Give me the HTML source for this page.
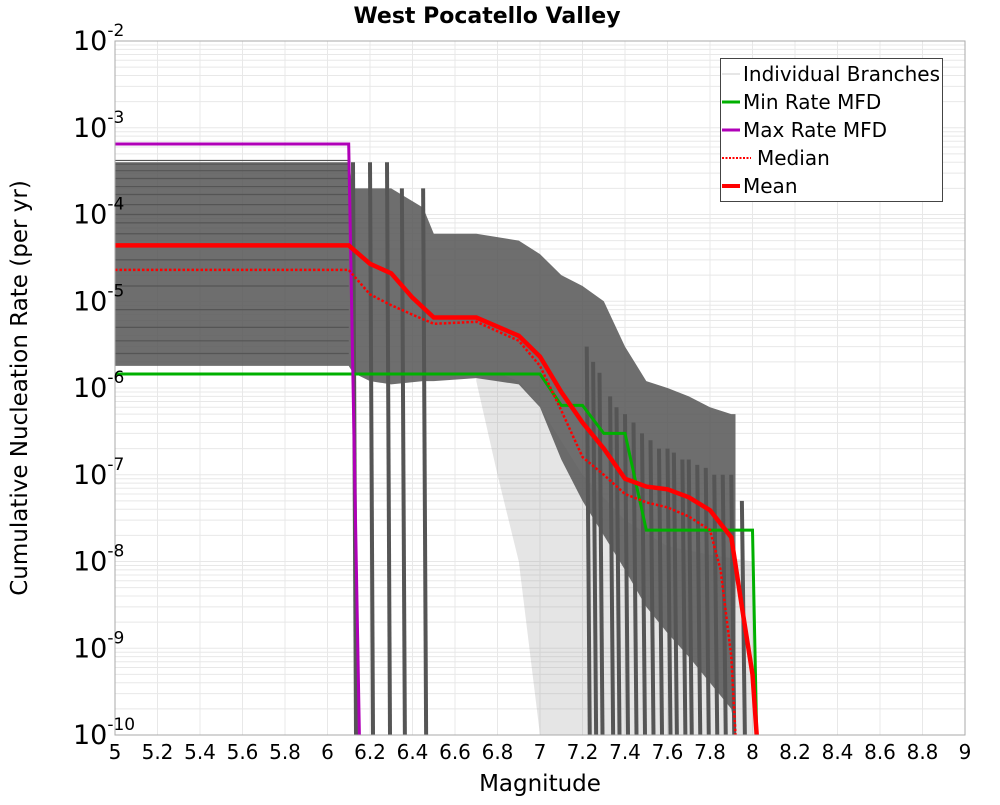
<!DOCTYPE html>
<html><head><meta charset="utf-8"><style>
body{margin:0;background:#fff;}
svg text{font-family:"DejaVu Sans","Liberation Sans",sans-serif;}
</style></head><body>
<svg id="chart" width="1000" height="800" xmlns="http://www.w3.org/2000/svg">
<text x="487" y="23" text-anchor="middle" font-size="22" font-weight="bold">West Pocatello Valley</text>
<text x="540" y="791" text-anchor="middle" font-size="23">Magnitude</text>
<text transform="translate(27,388) rotate(-90)" text-anchor="middle" font-size="23">Cumulative Nucleation Rate (per yr)</text>
<g id="grid"></g>
<g id="marks"></g>
<rect x="115" y="41" width="850" height="694" fill="none" stroke="#aaa" stroke-width="1"/>
<g id="axes"></g>
<g>
<rect x="720.5" y="58.5" width="222" height="143" fill="#fff" stroke="#444"/>
<line x1="722" y1="74" x2="740" y2="74" stroke="#ccc" stroke-width="1"/>
<text x="743" y="81" font-size="20">Individual Branches</text>
<line x1="722" y1="102" x2="740" y2="102" stroke="#00b000" stroke-width="3"/>
<text x="743" y="109" font-size="20">Min Rate MFD</text>
<line x1="722" y1="130" x2="740" y2="130" stroke="#b000b8" stroke-width="3"/>
<text x="743" y="137" font-size="20">Max Rate MFD</text>
<line x1="722" y1="158" x2="751" y2="158" stroke="#f00" stroke-width="2" stroke-dasharray="2,1.5"/>
<text x="757" y="165" font-size="20">Median</text>
<line x1="722" y1="186" x2="740" y2="186" stroke="#f00" stroke-width="4"/>
<text x="743" y="193" font-size="20">Mean</text>
</g>
</svg>
<script>
const xTicks=[5,5.2,5.4,5.6,5.8,6,6.2,6.4,6.6,6.8,7,7.2,7.4,7.6,7.8,8,8.2,8.4,8.6,8.8,9];
const xTickLabels=["5","5.2","5.4","5.6","5.8","6","6.2","6.4","6.6","6.8","7","7.2","7.4","7.6","7.8","8","8.2","8.4","8.6","8.8","9"];
const yExps=[-2,-3,-4,-5,-6,-7,-8,-9,-10];
const bandMag=[5,6.1,6.12,6.2,6.3,6.45,6.5,6.7,6.9,7.0,7.1,7.2,7.3,7.4,7.5,7.6,7.7,7.8,7.9,7.92];
const bandUpper=[4e-4,4e-4,2e-4,2e-4,2e-4,1.2e-4,6e-5,6e-5,5e-5,3.5e-5,2e-5,1.5e-5,1e-5,3e-6,1.2e-6,1e-6,8e-7,6e-7,5e-7,5e-7];
const bandLower=[1.8e-6,1.8e-6,1.5e-6,1.2e-6,1.1e-6,1.2e-6,1.2e-6,1.3e-6,1.1e-6,6e-7,1.5e-7,5e-8,2e-8,8e-9,3e-9,1.5e-9,8e-10,4e-10,2e-10,1e-10];
const scatterMag=[6.7,6.8,6.9,7.0,7.2,7.4,7.6,7.8,8.0,8.02];
const scatterUpper=[1.5e-6,1.5e-6,1.2e-6,6e-7,1e-7,3e-8,1.5e-8,1.2e-8,1e-8,1e-10];
const scatterLower=[1.2e-6,1e-7,1e-8,1e-10,1e-10,1e-10,1e-10,1e-10,1e-10,1e-10];
const dropMag=[6.12,6.2,6.28,6.35,6.45,7.22,7.25,7.28,7.33,7.36,7.4,7.44,7.48,7.52,7.56,7.6,7.63,7.67,7.7,7.74,7.78,7.82,7.86,7.9,7.95];
const dropTop=[4e-4,4e-4,4e-4,2e-4,2e-4,3e-6,2e-6,1.5e-6,8e-7,6e-7,5e-7,4e-7,3e-7,2.5e-7,2e-7,2e-7,1.8e-7,1.5e-7,1.5e-7,1.3e-7,1.2e-7,1e-7,1e-7,1e-7,5e-8];
const branchLevels=[4.2e-4,3.8e-4,3.2e-4,2.6e-4,2.1e-4,1.7e-4,1.3e-4,1e-4,8e-5,6e-5,3e-5,1.5e-5,8e-6,5e-6,3.5e-6,2.5e-6];
const meanMag=[5,6.1,6.2,6.3,6.4,6.5,6.7,6.9,7.0,7.1,7.2,7.3,7.4,7.5,7.6,7.7,7.8,7.9,7.95,8.0,8.02];
const meanVal=[4.4e-5,4.4e-5,2.7e-5,2.1e-5,1.1e-5,6.5e-6,6.5e-6,4e-6,2.3e-6,9e-7,4e-7,2e-7,9e-8,7.3e-8,6.8e-8,5.5e-8,3.9e-8,1.9e-8,3e-9,5e-10,1e-10];
const medMag=[5,6.1,6.2,6.3,6.4,6.5,6.7,6.9,7.0,7.1,7.2,7.3,7.4,7.5,7.6,7.7,7.8,7.85,7.9,7.92];
const medVal=[2.3e-5,2.3e-5,1.2e-5,9e-6,7e-6,5.5e-6,5.8e-6,3.5e-6,1.8e-6,5.5e-7,1.6e-7,1e-7,6e-8,4.8e-8,4.2e-8,3.3e-8,2.3e-8,8e-9,8e-10,1e-10];
const minMag=[5,7.0,7.1,7.2,7.3,7.4,7.5,8.0,8.02];
const minVal=[1.45e-6,1.45e-6,6.3e-7,6.3e-7,3e-7,3e-7,2.3e-8,2.3e-8,1e-10];
const maxMag=[5,6.1,6.15];
const maxVal=[6.5e-4,6.5e-4,1e-10];

const X0=115,X1=965,Y0=41,Y1=735;
const xs=m=>X0+(m-5)/4*(X1-X0);
const ys=v=>Y0+(-2-Math.log10(v))/8*(Y1-Y0);
const NS="http://www.w3.org/2000/svg";
function mk(tag,attrs,parent){const e=document.createElementNS(NS,tag);for(const k in attrs)e.setAttribute(k,attrs[k]);parent.appendChild(e);return e;}
const grid=document.getElementById('grid'),marks=document.getElementById('marks'),axes=document.getElementById('axes');
for(let e=-10;e<-2;e++)for(let k=1;k<10;k++){const y=ys(k*Math.pow(10,e));
 const l=mk('line',{x1:X0,x2:X1,y1:y,y2:y,stroke:'#e8e8e8','stroke-width':1},grid);
 
 }
xTicks.forEach(t=>{const x=xs(t);const l=mk('line',{x1:x,x2:x,y1:Y0,y2:Y1,stroke:'#e8e8e8','stroke-width':1},grid);
 
 });
function path(mags,vals){return mags.map((m,i)=>(i?'L':'M')+xs(m).toFixed(1)+','+ys(vals[i]).toFixed(1)).join('');}
function poly(mags,up,lo){let d=path(mags,up);for(let i=mags.length-1;i>=0;i--)d+='L'+xs(mags[i]).toFixed(1)+','+ys(lo[i]).toFixed(1);return d+'Z';}
let p=mk('path',{d:poly(scatterMag,scatterUpper,scatterLower),fill:'#999','fill-opacity':0.25},marks);


p=mk('path',{d:poly(bandMag,bandUpper,bandLower),fill:'#555','fill-opacity':0.85},marks);


branchLevels.forEach(v=>{const l=mk('line',{x1:X0,x2:xs(6.1),y1:ys(v),y2:ys(v),stroke:'#555','stroke-width':1.2},marks);
 
 });
dropMag.forEach((m,i)=>{const l=mk('line',{x1:xs(m),x2:xs(m)+3,y1:ys(dropTop[i]),y2:Y1,stroke:'#555','stroke-width':4},marks);
 
 });
p=mk('path',{d:path(minMag,minVal),fill:'none',stroke:'#00b000','stroke-width':3},marks);


p=mk('path',{d:path(maxMag,maxVal),fill:'none',stroke:'#b000b8','stroke-width':3},marks);


p=mk('path',{d:path(medMag,medVal),fill:'none',stroke:'#f00','stroke-width':2.5,'stroke-dasharray':'2.5,2'},marks);


p=mk('path',{d:path(meanMag,meanVal),fill:'none',stroke:'#f00','stroke-width':4.5},marks);


xTicks.forEach((t,i)=>{const tx=mk('text',{x:xs(t),y:759,'text-anchor':'middle','font-size':20},axes);tx.textContent=xTickLabels[i];
 
 });
yExps.forEach(e=>{const y=ys(Math.pow(10,e));const tx=mk('text',{x:73,y:y+9,'font-size':27},axes);
 
 
 tx.textContent='10';const s=mk('tspan',{dy:-14,'font-size':17},tx);s.textContent=String(e);});
</script>
</body></html>
